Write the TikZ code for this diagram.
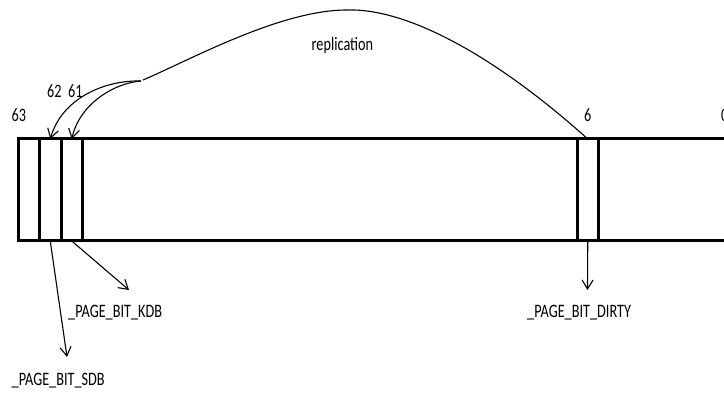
\documentclass[tikz,border=0pt]{standalone}
\usepackage{fontspec}
\setmainfont{Carlito}[FakeStretch=0.75]
\usetikzlibrary{arrows.meta}
\begin{document}
\begin{tikzpicture}[x=1pt,y=-1pt,
  frame/.style={line width=3pt},
  cell/.style={draw,line width=3pt,minimum width=21.5pt,minimum height=102pt,inner sep=0pt,outer sep=0pt,anchor=north west},
  lbl/.style={inner sep=0pt,anchor=base west,font=\fontsize{19}{19}\selectfont},
  conn/.style={line width=1.1pt,-{Straight Barb[length=9pt,width=11pt,line width=1.1pt]}},
  plain/.style={line width=1.1pt}]
\useasboundingbox (0,0) rectangle (724,393);
% register frame
\draw[frame] (18,139) rectangle (780,241);
\node[cell] (c63) at (18,139) {};
\node[cell] (c62) at (39.5,139) {};
\node[cell] (c61) at (61,139) {};
\node[cell] (c6) at (577,139) {};
% bit numbers
\node[lbl] (n63) at (11.5,122) {63};
\node[lbl] (n62) at (47,97.5) {62};
\node[lbl] (n61) at (68,97.5) {61};
\node[lbl] (n6) at (584,122) {6};
\node[lbl] (n0) at (721,122) {0};
% replication
\node[lbl] (rep) at (311.5,51) {replication};
\coordinate (src) at (141,81);
\draw[plain] (143,80) .. controls (190,60) and (280,10) .. (347,10)
  .. controls (410,8) and (500,60) .. (c6.north);
\draw[conn] (src) .. controls (105,80) and (62,98) .. (c62.north);
\draw[conn] (src) .. controls (115,83) and (80,103) .. (c61.north);
% labels below
\node[lbl] (kdb) at (68,318) {\_PAGE\_BIT\_KDB};
\node[lbl] (sdb) at (11.5,385) {\_PAGE\_BIT\_SDB};
\node[lbl] (dirty) at (527,318) {\_PAGE\_BIT\_DIRTY};
\coordinate (kdbtip) at (129,290);
\coordinate (sdbtip) at (67,357);
\coordinate (dirtytip) at (587.5,290);
\draw[conn] (c61.south) -- (kdbtip);
\draw[conn] (c62.south) -- (sdbtip);
\draw[conn] (c6.south) -- (dirtytip);
\end{tikzpicture}
\end{document}
